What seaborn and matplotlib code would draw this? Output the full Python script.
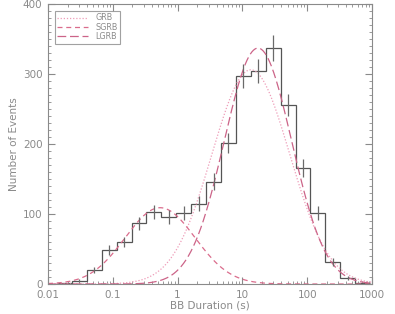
import matplotlib
matplotlib.use('Agg')
import matplotlib.pyplot as plt
import matplotlib.ticker as mticker
import numpy as np
import pandas as pd
import seaborn as sns

# log10 bin edges of the BB duration histogram
bin_edges_log = [-1.86, -1.63, -1.40, -1.17, -0.94, -0.71, -0.48, -0.25, -0.02,
                 0.21, 0.44, 0.67, 0.90, 1.13, 1.36, 1.59, 1.82, 2.05, 2.28,
                 2.51, 2.74, 2.97]
counts = [1, 5, 20, 49, 60, 87, 103, 96, 101, 115, 146, 201, 297, 304, 337,
          256, 166, 101, 31, 9, 1]

# lognormal fits: (centre in log10 s, sigma in dex, amplitude)
grb_fit = (1.13, 0.60, 306)
sgrb_fit = (-0.27, 0.54, 109)
lgrb_fit = (1.24, 0.52, 337)

xtick_vals = [0.01, 0.1, 1, 10, 100, 1000]
xtick_labels = ['0.01', '0.1', '1', '10', '100', '1000']
ytick_vals = [0, 100, 200, 300, 400]

sns.set_style('ticks')
plt.rcParams['font.family'] = ['DejaVu Sans']
grey = '#8a8a8a'

fig = plt.figure(figsize=(3.95, 3.14), dpi=100)
ax = fig.add_axes([48 / 395, 30 / 314, 324 / 395, 280 / 314])
ax.set_xscale('log')

# model curves
logx = np.linspace(-2, 3, 400)
curves = []
for name, (mu, sig, amp) in [('GRB', grb_fit), ('SGRB', sgrb_fit), ('LGRB', lgrb_fit)]:
    curves.append(pd.DataFrame({'x': 10 ** logx,
                                'y': amp * np.exp(-(logx - mu) ** 2 / (2 * sig ** 2)),
                                'model': name}))
df_curves = pd.concat(curves)

styles = {'GRB': ('#ee9cb8', (0, (1, 1.5)), 0.9),
          'SGRB': ('#da6c8c', (0, (4, 3)), 0.9),
          'LGRB': ('#cc6488', (0, (7, 3)), 0.9)}
for name in ['GRB', 'SGRB', 'LGRB']:
    c, ls, lw = styles[name]
    sns.lineplot(data=df_curves[df_curves['model'] == name], x='x', y='y',
                 ax=ax, color=c, linestyle=ls, linewidth=lw, label=name)

# histogram + sqrt(N) error bars
edges = 10 ** np.array(bin_edges_log)
cnt = np.array(counts)
ax.stairs(cnt, edges, color='#555555', linewidth=0.9, baseline=None)
centers = 10 ** ((np.array(bin_edges_log[:-1]) + np.array(bin_edges_log[1:])) / 2)
err = np.sqrt(cnt)
ax.vlines(centers, cnt - err, cnt + err, color='#6a6a6a', linewidth=0.9)

ax.set_xlim(0.01, 1000)
ax.set_ylim(0, 400)
ax.set_xticks(xtick_vals)
ax.set_xticklabels(xtick_labels)
ax.xaxis.set_minor_locator(mticker.LogLocator(base=10, subs=np.arange(2, 10)))
ax.xaxis.set_minor_formatter(mticker.NullFormatter())
ax.set_yticks(ytick_vals)
ax.yaxis.set_minor_locator(mticker.MultipleLocator(10))

ax.tick_params(which='both', direction='in', top=True, right=True,
               colors=grey, labelcolor=grey, labelsize=7.5)
ax.tick_params(which='major', length=5, width=0.8, pad=4)
ax.tick_params(which='minor', length=2.5, width=0.6)
for sp in ax.spines.values():
    sp.set_color(grey)
    sp.set_linewidth(0.8)

ax.set_xlabel('BB Duration (s)', color=grey, fontsize=7.5, labelpad=1)
ax.set_ylabel('Number of Events', color=grey, fontsize=7.5, labelpad=3)

leg = ax.legend(loc='upper left', fontsize=5.8, frameon=True, fancybox=False,
                handlelength=3.8, handletextpad=0.9, borderpad=0.3,
                labelspacing=0.05, borderaxespad=0,
                bbox_to_anchor=(7 / 324, 1 - 7 / 280))
leg.get_frame().set_edgecolor(grey)
leg.get_frame().set_linewidth(0.8)
for t in leg.get_texts():
    t.set_color(grey)

fig.savefig('out.png', dpi=100)
